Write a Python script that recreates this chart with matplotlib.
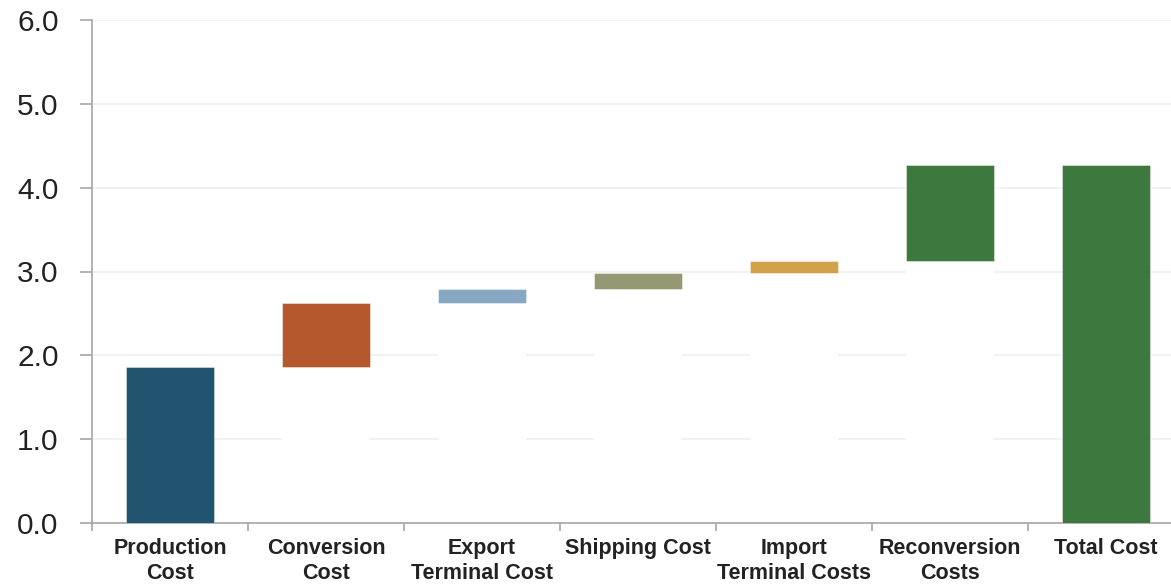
import matplotlib
matplotlib.use("Agg")
import matplotlib.pyplot as plt
import numpy as np

categories = ["Production\nCost", "Conversion\nCost", "Export\nTerminal Cost", "Shipping Cost",
              "Import\nTerminal Costs", "Reconversion\nCosts", "Total Cost"]
increments = [1.86, 0.77, 0.16, 0.19, 0.15, 1.14]
colors = ["#20546f", "#b5582d", "#87a8c4", "#969773", "#d2a24a", "#3d783f", "#3d783f"]
yticks = [0.0, 1.0, 2.0, 3.0, 4.0, 5.0, 6.0]

cum = np.cumsum(increments)
total = cum[-1]
bases = list(np.concatenate([[0], cum[:-1]])) + [0]
heights = list(increments) + [total]

plt.rcParams['font.family'] = ['Liberation Sans', 'DejaVu Sans']

fig = plt.figure(figsize=(11.71, 5.85), dpi=100)
W, H = 1171, 585
x0, x1 = 92, 1184
ytop, ybot = 20, 523
ax = fig.add_axes([x0 / W, (H - ybot) / H, (x1 - x0) / W, (ybot - ytop) / H])

x = np.arange(len(categories))
ax.set_axisbelow(True)
ax.grid(axis='y', color='#f0f0f0', linewidth=1.2, zorder=0)
# invisible base bars (white) that mask grid lines
ax.bar(x, bases, width=0.56, color='white', zorder=2)
ax.bar(x, heights, bottom=bases, width=0.56, color=colors, edgecolor=(1, 1, 1, 0.5),
       linewidth=0.6, zorder=3)

ax.set_xlim(-0.5, len(categories) - 0.5)
ax.set_ylim(0, 6)
ax.set_yticks(yticks)
ax.set_yticklabels([f"{v:.1f}" for v in yticks], fontsize=21.5, color='#222222')
ax.tick_params(axis='y', length=9, width=1.2, color='#a6a6a6', pad=15)

ax.set_xticks(x)
ax.set_xticklabels(categories, fontsize=15.5, fontweight='bold', color='#222222',
                   linespacing=1.22)
ax.tick_params(axis='x', length=0, pad=11)
ax.set_xticks(np.arange(len(categories) + 1) - 0.5, minor=True)
ax.tick_params(axis='x', which='minor', length=6, width=1.2, color='#a6a6a6')

for s in ['top', 'right']:
    ax.spines[s].set_visible(False)
for s in ['left', 'bottom']:
    ax.spines[s].set_color('#a6a6a6')
    ax.spines[s].set_linewidth(1.2)

fig.savefig("out.png", dpi=100)
